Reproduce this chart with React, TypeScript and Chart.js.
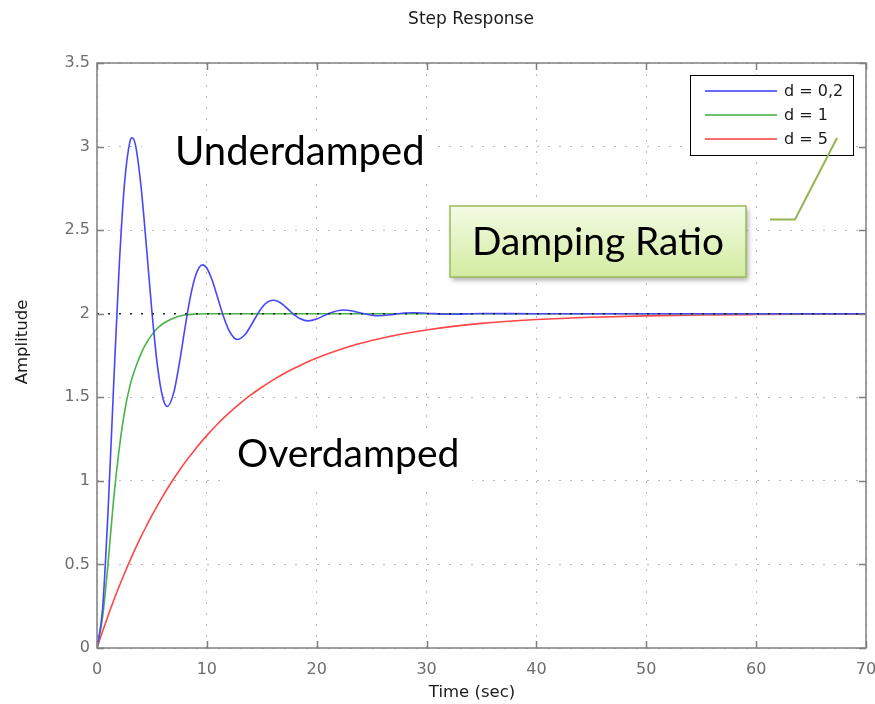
import React, { useEffect, useRef } from "react";
import { Chart, registerables } from "chart.js";

Chart.register(...registerables);

// ---- data ----
const timeUnder = [0, 0.5, 1, 1.5, 2, 2.5, 3, 3.2, 3.5, 4, 4.5, 5, 5.5, 6, 6.4, 7, 7.5, 8, 8.5, 9, 9.6, 10, 10.5, 11, 11.5, 12, 12.5, 12.8, 13.5, 14, 14.5, 15, 15.5, 16, 16.5, 17, 17.5, 18, 18.5, 19.2, 20, 21, 22.4, 23, 24, 25, 25.6, 27, 28, 28.8, 30, 32, 35, 40, 50, 60, 70];
const ampUnder = [0, 0.229, 0.81, 1.55, 2.256, 2.775, 3.031, 3.053, 3.01, 2.766, 2.401, 2.011, 1.689, 1.494, 1.445, 1.531, 1.704, 1.911, 2.101, 2.233, 2.292, 2.272, 2.197, 2.092, 1.986, 1.902, 1.854, 1.846, 1.877, 1.928, 1.985, 2.036, 2.069, 2.081, 2.073, 2.05, 2.02, 1.991, 1.97, 1.957, 1.968, 1.999, 2.022, 2.019, 2.004, 1.991, 1.988, 1.996, 2.004, 2.006, 2.003, 1.997, 2.001, 2.0, 2.0, 2.0, 2.0];

const timeCrit = [0, 0.5, 1, 1.5, 2, 2.5, 3, 3.5, 4, 4.5, 5, 5.5, 6, 7, 8, 9, 10, 20, 30, 40, 50, 60, 70];
const ampCrit = [0, 0.18, 0.5, 0.88, 1.18, 1.41, 1.57, 1.675, 1.76, 1.825, 1.875, 1.913, 1.94, 1.975, 1.992, 1.998, 2.0, 2.0, 2.0, 2.0, 2.0, 2.0, 2.0];

const timeOver = [0, 0.5, 1, 1.5, 2, 2.5, 3, 3.5, 4, 4.5, 5, 5.5, 6, 6.5, 7, 7.5, 8, 9, 10, 11, 12, 13, 14, 15, 16, 17, 18, 19, 20, 22, 24, 26, 28, 30, 35, 40, 45, 50, 55, 60, 65, 70];
const ampOver = [0, 0.098, 0.192, 0.281, 0.366, 0.446, 0.523, 0.596, 0.665, 0.73, 0.793, 0.852, 0.909, 0.963, 1.014, 1.062, 1.109, 1.194, 1.272, 1.342, 1.405, 1.462, 1.514, 1.56, 1.603, 1.641, 1.675, 1.707, 1.735, 1.783, 1.823, 1.855, 1.882, 1.903, 1.942, 1.965, 1.979, 1.987, 1.992, 1.995, 1.997, 1.998];

const steadyTime = [0, 70];
const steadyValue = [2, 2];

const seriesLabels = ["d = 0,2", "d = 1", "d = 5"];
const seriesColors = ["#4646ff", "#46b446", "#ff4646"];

const xTicks = [0, 10, 20, 30, 40, 50, 60, 70];
const yTicks = [0, 0.5, 1, 1.5, 2, 2.5, 3, 3.5];

const chartTitle = "Step Response";
const xTitle = "Time (sec)";
const yTitle = "Amplitude";
const noteUnder = "Underdamped";
const noteOver = "Overdamped";
const noteRatio = "Damping Ratio";

const toPoints = (t: number[], v: number[]) => t.map((x, i) => ({ x, y: v[i] }));

const FONT = "'DejaVu Sans', 'Liberation Sans', sans-serif";
const BIG = "Lato, 'Open Sans', sans-serif";

const decor = {
  id: "decor",
  afterDraw(chart: any) {
    const { ctx, chartArea: a, scales } = chart;
    const xs = scales.x;
    const ys = scales.y;
    ctx.save();

    // frame
    ctx.strokeStyle = "#7f7f7f";
    ctx.lineWidth = 1.5;
    ctx.setLineDash([]);
    ctx.strokeRect(a.left, a.top, a.right - a.left, a.bottom - a.top);
    ctx.beginPath();
    xTicks.forEach((v) => {
      const p = Math.round(xs.getPixelForValue(v)) + 0.5;
      ctx.moveTo(p, a.bottom);
      ctx.lineTo(p, a.bottom - 7);
      ctx.moveTo(p, a.top);
      ctx.lineTo(p, a.top + 7);
    });
    yTicks.forEach((v) => {
      const p = Math.round(ys.getPixelForValue(v)) + 0.5;
      ctx.moveTo(a.left, p);
      ctx.lineTo(a.left + 7, p);
      ctx.moveTo(a.right, p);
      ctx.lineTo(a.right - 7, p);
    });
    ctx.stroke();

    // titles
    ctx.fillStyle = "#1a1a1a";
    ctx.font = `17px ${FONT}`;
    ctx.textAlign = "center";
    ctx.textBaseline = "alphabetic";
    ctx.fillText(chartTitle, 471, 24);
    ctx.font = `16.5px ${FONT}`;
    ctx.fillText(xTitle, 472, 697);
    ctx.save();
    ctx.translate(23, 342);
    ctx.rotate(-Math.PI / 2);
    ctx.textBaseline = "middle";
    ctx.fillText(yTitle, 0, 0);
    ctx.restore();

    // legend
    ctx.fillStyle = "#ffffff";
    ctx.fillRect(690, 75, 163, 80);
    ctx.strokeStyle = "#000000";
    ctx.lineWidth = 1;
    ctx.strokeRect(690.5, 75.5, 163, 80);
    ctx.font = `16px ${FONT}`;
    ctx.textAlign = "left";
    ctx.textBaseline = "middle";
    seriesLabels.forEach((lab, i) => {
      const yy = 91 + i * 24;
      ctx.strokeStyle = seriesColors[i];
      ctx.globalAlpha = 0.8;
      ctx.lineWidth = 2;
      ctx.beginPath();
      ctx.moveTo(705, yy);
      ctx.lineTo(777, yy);
      ctx.stroke();
      ctx.globalAlpha = 1;
      ctx.fillStyle = "#1a1a1a";
      ctx.fillText(lab, 784, yy + 1);
    });

    // annotation text boxes (white background)
    ctx.fillStyle = "#ffffff";
    ctx.fillRect(142, 132, 296, 48);
    ctx.fillRect(228, 430, 244, 56);
    ctx.fillStyle = "#000000";
    ctx.textAlign = "left";
    ctx.textBaseline = "alphabetic";
    ctx.font = `40px ${BIG}`;
    ctx.fillText(noteUnder, 175, 165);
    ctx.font = `39px ${BIG}`;
    ctx.fillText(noteOver, 237, 467);

    // callout line
    ctx.strokeStyle = "#93b551";
    ctx.lineWidth = 2;
    ctx.beginPath();
    ctx.moveTo(770, 219.5);
    ctx.lineTo(795, 219.5);
    ctx.lineTo(837, 138);
    ctx.stroke();

    // damping ratio box
    ctx.save();
    ctx.shadowColor = "rgba(0,0,0,0.35)";
    ctx.shadowBlur = 5;
    ctx.shadowOffsetX = 2;
    ctx.shadowOffsetY = 3;
    const g = ctx.createLinearGradient(0, 206, 0, 277);
    g.addColorStop(0, "#f3fbe5");
    g.addColorStop(1, "#d2eca0");
    ctx.fillStyle = g;
    ctx.fillRect(450, 206, 296, 71);
    ctx.restore();
    ctx.strokeStyle = "#9bbb59";
    ctx.lineWidth = 1.5;
    ctx.strokeRect(450, 206, 296, 71);
    ctx.fillStyle = "#000000";
    ctx.font = `38.8px ${BIG}`;
    ctx.textAlign = "center";
    ctx.fillText(noteRatio, 598, 255);

    ctx.restore();
  },
};

export default function App() {
  const ref = useRef<HTMLCanvasElement>(null);
  useEffect(() => {
    document.body.style.margin = "0";
    const chart = new Chart(ref.current as HTMLCanvasElement, {
      type: "line",
      data: {
        datasets: [
          {
            label: seriesLabels[0],
            data: toPoints(timeUnder, ampUnder),
            borderColor: seriesColors[0],
            borderWidth: 1.6,
            pointRadius: 0,
            cubicInterpolationMode: "monotone",
          },
          {
            label: seriesLabels[1],
            data: toPoints(timeCrit, ampCrit),
            borderColor: seriesColors[1],
            borderWidth: 1.6,
            pointRadius: 0,
            cubicInterpolationMode: "monotone",
          },
          {
            label: seriesLabels[2],
            data: toPoints(timeOver, ampOver),
            borderColor: seriesColors[2],
            borderWidth: 1.6,
            pointRadius: 0,
            cubicInterpolationMode: "monotone",
          },
          {
            label: "steady state",
            data: toPoints(steadyTime, steadyValue),
            borderColor: "#222222",
            borderWidth: 1.6,
            borderDash: [2, 9],
            pointRadius: 0,
            order: -1,
          },
        ],
      },
      options: {
        animation: false,
        responsive: false,
        devicePixelRatio: 1,
        layout: { autoPadding: false, padding: { top: 63, right: 9, left: 0, bottom: 0 } },
        plugins: {
          legend: { display: false },
          title: { display: false },
          tooltip: { enabled: false },
        },
        scales: {
          x: {
            type: "linear",
            min: 0,
            max: 70,
            afterFit: (s: any) => {
              s.height = 56;
              s.paddingLeft = 0;
              s.paddingRight = 0;
            },
            afterBuildTicks: (s: any) => {
              s.ticks = xTicks.map((v) => ({ value: v }));
            },
            ticks: {
              color: "#6e6e6e",
              font: { family: FONT, size: 16 },
              padding: 12,
              maxRotation: 0,
              callback: (v: any) => String(v),
            },
            grid: { color: "#b9b9b9", lineWidth: 1, drawTicks: false },
            border: { display: false, dash: [2, 9] },
          },
          y: {
            type: "linear",
            min: 0,
            max: 3.5,
            afterFit: (s: any) => {
              s.width = 97;
              s.paddingTop = 0;
              s.paddingBottom = 0;
            },
            afterBuildTicks: (s: any) => {
              s.ticks = yTicks.map((v) => ({ value: v }));
            },
            ticks: {
              color: "#6e6e6e",
              font: { family: FONT, size: 16 },
              padding: 7,
              callback: (v: any) => String(v),
            },
            grid: { color: "#b9b9b9", lineWidth: 1, drawTicks: false },
            border: { display: false, dash: [2, 9] },
          },
        },
      },
      plugins: [decor],
    } as any);
    return () => chart.destroy();
  }, []);
  return (
    <div style={{ width: 875, height: 704, position: "relative", background: "#ffffff" }}>
      <canvas ref={ref} width={875} height={704} style={{ display: "block" }} />
    </div>
  );
}
